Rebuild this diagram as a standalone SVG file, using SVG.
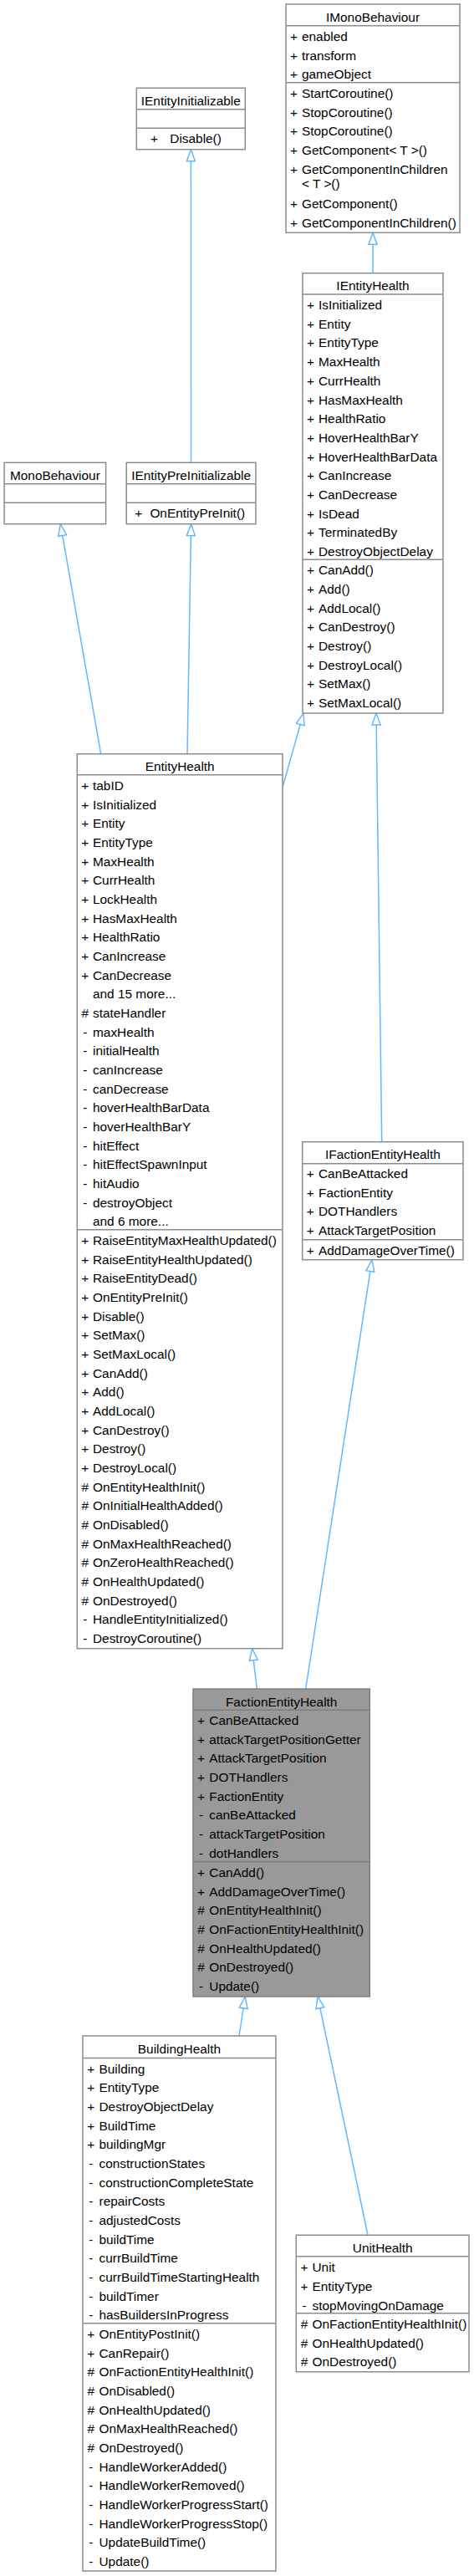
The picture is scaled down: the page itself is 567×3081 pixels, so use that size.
<svg xmlns="http://www.w3.org/2000/svg" width="567" height="3081" viewBox="0 0 567 3081">
<style>
text{font-family:"Liberation Sans",Arial,Helvetica,sans-serif;font-size:15.4px;fill:#000}
.t{text-anchor:middle}
.s{text-anchor:middle}
.box{fill:#fff;stroke:#8c8c8c;stroke-width:1.5}
.gbox{fill:#999;stroke:#7f7f7f;stroke-width:1.5}
.sep{stroke:#8c8c8c;stroke-width:1.5}
.gsep{stroke:#7f7f7f;stroke-width:1.5}
.edge{fill:none;stroke:#63B8FF;stroke-width:1.5}
</style>
<defs>
<marker id="inh" markerWidth="18" markerHeight="14" refX="16" refY="7" orient="auto" markerUnits="userSpaceOnUse" style="overflow:visible">
<path d="M2,2 L16,7 L2,12 Z" fill="#fff" stroke="#63B8FF" stroke-width="1.5"/>
</marker>
</defs>
<rect width="567" height="3081" fill="#fff"/>

<g id="connectors">
<path class="edge" d="M228.5,553.3 L228.4,178.7" marker-end="url(#inh)"/>
<path class="edge" d="M446,326.7 L446,278.3" marker-end="url(#inh)"/>
<path class="edge" d="M120.7,901.7 L72.3,626.7" marker-end="url(#inh)"/>
<path class="edge" d="M224,901.7 L228.6,626.7" marker-end="url(#inh)"/>
<path class="edge" d="M338,941.7 L363,853" marker-end="url(#inh)"/>
<path class="edge" d="M456.7,1365.7 L450,853" marker-end="url(#inh)"/>
<path class="edge" d="M307.3,2020 L301.7,1971.7" marker-end="url(#inh)"/>
<path class="edge" d="M365.7,2020 L445,1506.7" marker-end="url(#inh)"/>
<path class="edge" d="M286,2435 L293.3,2388" marker-end="url(#inh)"/>
<path class="edge" d="M440,2673.3 L380,2388" marker-end="url(#inh)"/>
</g>

<g id="IMonoBehaviour">
<rect class="box" x="342" y="5" width="208" height="273.3"/>
<line class="sep" x1="342" y1="30.7" x2="550" y2="30.7"/>
<line class="sep" x1="342" y1="98.7" x2="550" y2="98.7"/>
<text class="t" x="446" y="25.6">IMonoBehaviour</text>
<text y="48.8"><tspan class="s" x="351.5">+</tspan><tspan x="361">enabled</tspan></text>
<text y="71.5"><tspan class="s" x="351.5">+</tspan><tspan x="361">transform</tspan></text>
<text y="94.1"><tspan class="s" x="351.5">+</tspan><tspan x="361">gameObject</tspan></text>
<text y="116.8"><tspan class="s" x="351.5">+</tspan><tspan x="361">StartCoroutine()</tspan></text>
<text y="139.5"><tspan class="s" x="351.5">+</tspan><tspan x="361">StopCoroutine()</tspan></text>
<text y="162.1"><tspan class="s" x="351.5">+</tspan><tspan x="361">StopCoroutine()</tspan></text>
<text y="184.8"><tspan class="s" x="351.5">+</tspan><tspan x="361">GetComponent&lt; T &gt;()</tspan></text>
<text y="207.5"><tspan class="s" x="351.5">+</tspan><tspan x="361">GetComponentInChildren</tspan></text>
<text x="361" y="225">&lt; T &gt;()</text>
<text y="248.8"><tspan class="s" x="351.5">+</tspan><tspan x="361">GetComponent()</tspan></text>
<text y="271.5"><tspan class="s" x="351.5">+</tspan><tspan x="361">GetComponentInChildren()</tspan></text>
</g>

<g id="IEntityInitializable">
<rect class="box" x="163.3" y="105.3" width="130" height="73.4"/>
<line class="sep" x1="163.3" y1="130.7" x2="293.3" y2="130.7"/>
<line class="sep" x1="163.3" y1="153.3" x2="293.3" y2="153.3"/>
<text class="t" x="228.3" y="125.9">IEntityInitializable</text>
<text y="170.8"><tspan class="s" x="184.5">+</tspan><tspan x="203.3">Disable()</tspan></text>
</g>

<g id="MonoBehaviour">
<rect class="box" x="5.1" y="553.3" width="121.5" height="73.4"/>
<line class="sep" x1="5.1" y1="578.7" x2="126.6" y2="578.7"/>
<line class="sep" x1="5.1" y1="601.3" x2="126.6" y2="601.3"/>
<text class="t" x="65.9" y="573.9">MonoBehaviour</text>
</g>

<g id="IEntityPreInitializable">
<rect class="box" x="151.2" y="553.3" width="154.8" height="73.4"/>
<line class="sep" x1="151.2" y1="578.7" x2="306" y2="578.7"/>
<line class="sep" x1="151.2" y1="601.3" x2="306" y2="601.3"/>
<text class="t" x="228.6" y="573.9">IEntityPreInitializable</text>
<text y="618.8"><tspan class="s" x="165.7">+</tspan><tspan x="179.4">OnEntityPreInit()</tspan></text>
</g>

<g id="IEntityHealth">
<rect class="box" x="362" y="326.7" width="168" height="526.3"/>
<line class="sep" x1="362" y1="352" x2="530" y2="352"/>
<line class="sep" x1="362" y1="669.3" x2="530" y2="669.3"/>
<text class="t" x="446" y="347.3">IEntityHealth</text>
<text y="370.1"><tspan class="s" x="371.5">+</tspan><tspan x="381">IsInitialized</tspan></text>
<text y="392.8"><tspan class="s" x="371.5">+</tspan><tspan x="381">Entity</tspan></text>
<text y="415.4"><tspan class="s" x="371.5">+</tspan><tspan x="381">EntityType</tspan></text>
<text y="438.1"><tspan class="s" x="371.5">+</tspan><tspan x="381">MaxHealth</tspan></text>
<text y="460.8"><tspan class="s" x="371.5">+</tspan><tspan x="381">CurrHealth</tspan></text>
<text y="483.5"><tspan class="s" x="371.5">+</tspan><tspan x="381">HasMaxHealth</tspan></text>
<text y="506.1"><tspan class="s" x="371.5">+</tspan><tspan x="381">HealthRatio</tspan></text>
<text y="528.8"><tspan class="s" x="371.5">+</tspan><tspan x="381">HoverHealthBarY</tspan></text>
<text y="551.5"><tspan class="s" x="371.5">+</tspan><tspan x="381">HoverHealthBarData</tspan></text>
<text y="574.1"><tspan class="s" x="371.5">+</tspan><tspan x="381">CanIncrease</tspan></text>
<text y="596.8"><tspan class="s" x="371.5">+</tspan><tspan x="381">CanDecrease</tspan></text>
<text y="619.5"><tspan class="s" x="371.5">+</tspan><tspan x="381">IsDead</tspan></text>
<text y="642.1"><tspan class="s" x="371.5">+</tspan><tspan x="381">TerminatedBy</tspan></text>
<text y="664.8"><tspan class="s" x="371.5">+</tspan><tspan x="381">DestroyObjectDelay</tspan></text>
<text y="687.4"><tspan class="s" x="371.5">+</tspan><tspan x="381">CanAdd()</tspan></text>
<text y="710.1"><tspan class="s" x="371.5">+</tspan><tspan x="381">Add()</tspan></text>
<text y="732.7"><tspan class="s" x="371.5">+</tspan><tspan x="381">AddLocal()</tspan></text>
<text y="755.4"><tspan class="s" x="371.5">+</tspan><tspan x="381">CanDestroy()</tspan></text>
<text y="778.1"><tspan class="s" x="371.5">+</tspan><tspan x="381">Destroy()</tspan></text>
<text y="800.8"><tspan class="s" x="371.5">+</tspan><tspan x="381">DestroyLocal()</tspan></text>
<text y="823.4"><tspan class="s" x="371.5">+</tspan><tspan x="381">SetMax()</tspan></text>
<text y="846.1"><tspan class="s" x="371.5">+</tspan><tspan x="381">SetMaxLocal()</tspan></text>
</g>

<g id="EntityHealth">
<rect class="box" x="92.3" y="901.7" width="245.7" height="1070"/>
<line class="sep" x1="92.3" y1="926.7" x2="338" y2="926.7"/>
<line class="sep" x1="92.3" y1="1470.7" x2="338" y2="1470.7"/>
<text class="t" x="215.2" y="922.3">EntityHealth</text>
<text y="944.8"><tspan class="s" x="101.8">+</tspan><tspan x="111">tabID</tspan></text>
<text y="967.5"><tspan class="s" x="101.8">+</tspan><tspan x="111">IsInitialized</tspan></text>
<text y="990.1"><tspan class="s" x="101.8">+</tspan><tspan x="111">Entity</tspan></text>
<text y="1012.8"><tspan class="s" x="101.8">+</tspan><tspan x="111">EntityType</tspan></text>
<text y="1035.5"><tspan class="s" x="101.8">+</tspan><tspan x="111">MaxHealth</tspan></text>
<text y="1058.2"><tspan class="s" x="101.8">+</tspan><tspan x="111">CurrHealth</tspan></text>
<text y="1080.8"><tspan class="s" x="101.8">+</tspan><tspan x="111">LockHealth</tspan></text>
<text y="1103.5"><tspan class="s" x="101.8">+</tspan><tspan x="111">HasMaxHealth</tspan></text>
<text y="1126.2"><tspan class="s" x="101.8">+</tspan><tspan x="111">HealthRatio</tspan></text>
<text y="1148.8"><tspan class="s" x="101.8">+</tspan><tspan x="111">CanIncrease</tspan></text>
<text y="1171.5"><tspan class="s" x="101.8">+</tspan><tspan x="111">CanDecrease</tspan></text>
<text x="111" y="1194.2">and 15 more...</text>
<text y="1216.8"><tspan class="s" x="101.8">#</tspan><tspan x="111">stateHandler</tspan></text>
<text y="1239.5"><tspan class="s" x="101.8">-</tspan><tspan x="111">maxHealth</tspan></text>
<text y="1262.2"><tspan class="s" x="101.8">-</tspan><tspan x="111">initialHealth</tspan></text>
<text y="1284.9"><tspan class="s" x="101.8">-</tspan><tspan x="111">canIncrease</tspan></text>
<text y="1307.5"><tspan class="s" x="101.8">-</tspan><tspan x="111">canDecrease</tspan></text>
<text y="1330.2"><tspan class="s" x="101.8">-</tspan><tspan x="111">hoverHealthBarData</tspan></text>
<text y="1352.9"><tspan class="s" x="101.8">-</tspan><tspan x="111">hoverHealthBarY</tspan></text>
<text y="1375.5"><tspan class="s" x="101.8">-</tspan><tspan x="111">hitEffect</tspan></text>
<text y="1398.2"><tspan class="s" x="101.8">-</tspan><tspan x="111">hitEffectSpawnInput</tspan></text>
<text y="1420.9"><tspan class="s" x="101.8">-</tspan><tspan x="111">hitAudio</tspan></text>
<text y="1443.5"><tspan class="s" x="101.8">-</tspan><tspan x="111">destroyObject</tspan></text>
<text x="111" y="1466.2">and 6 more...</text>
<text y="1488.8"><tspan class="s" x="101.8">+</tspan><tspan x="111">RaiseEntityMaxHealthUpdated()</tspan></text>
<text y="1511.5"><tspan class="s" x="101.8">+</tspan><tspan x="111">RaiseEntityHealthUpdated()</tspan></text>
<text y="1534.1"><tspan class="s" x="101.8">+</tspan><tspan x="111">RaiseEntityDead()</tspan></text>
<text y="1556.8"><tspan class="s" x="101.8">+</tspan><tspan x="111">OnEntityPreInit()</tspan></text>
<text y="1579.5"><tspan class="s" x="101.8">+</tspan><tspan x="111">Disable()</tspan></text>
<text y="1602.2"><tspan class="s" x="101.8">+</tspan><tspan x="111">SetMax()</tspan></text>
<text y="1624.8"><tspan class="s" x="101.8">+</tspan><tspan x="111">SetMaxLocal()</tspan></text>
<text y="1647.5"><tspan class="s" x="101.8">+</tspan><tspan x="111">CanAdd()</tspan></text>
<text y="1670.2"><tspan class="s" x="101.8">+</tspan><tspan x="111">Add()</tspan></text>
<text y="1692.8"><tspan class="s" x="101.8">+</tspan><tspan x="111">AddLocal()</tspan></text>
<text y="1715.5"><tspan class="s" x="101.8">+</tspan><tspan x="111">CanDestroy()</tspan></text>
<text y="1738.2"><tspan class="s" x="101.8">+</tspan><tspan x="111">Destroy()</tspan></text>
<text y="1760.8"><tspan class="s" x="101.8">+</tspan><tspan x="111">DestroyLocal()</tspan></text>
<text y="1783.5"><tspan class="s" x="101.8">#</tspan><tspan x="111">OnEntityHealthInit()</tspan></text>
<text y="1806.2"><tspan class="s" x="101.8">#</tspan><tspan x="111">OnInitialHealthAdded()</tspan></text>
<text y="1828.9"><tspan class="s" x="101.8">#</tspan><tspan x="111">OnDisabled()</tspan></text>
<text y="1851.5"><tspan class="s" x="101.8">#</tspan><tspan x="111">OnMaxHealthReached()</tspan></text>
<text y="1874.2"><tspan class="s" x="101.8">#</tspan><tspan x="111">OnZeroHealthReached()</tspan></text>
<text y="1896.9"><tspan class="s" x="101.8">#</tspan><tspan x="111">OnHealthUpdated()</tspan></text>
<text y="1919.5"><tspan class="s" x="101.8">#</tspan><tspan x="111">OnDestroyed()</tspan></text>
<text y="1942.2"><tspan class="s" x="101.8">-</tspan><tspan x="111">HandleEntityInitialized()</tspan></text>
<text y="1964.9"><tspan class="s" x="101.8">-</tspan><tspan x="111">DestroyCoroutine()</tspan></text>
</g>

<g id="IFactionEntityHealth">
<rect class="box" x="361.7" y="1365.7" width="192.3" height="141"/>
<line class="sep" x1="361.7" y1="1391.7" x2="554" y2="1391.7"/>
<line class="sep" x1="361.7" y1="1482.7" x2="554" y2="1482.7"/>
<text class="t" x="457.9" y="1386.3">IFactionEntityHealth</text>
<text y="1409"><tspan class="s" x="371.2">+</tspan><tspan x="381">CanBeAttacked</tspan></text>
<text y="1431.7"><tspan class="s" x="371.2">+</tspan><tspan x="381">FactionEntity</tspan></text>
<text y="1454.3"><tspan class="s" x="371.2">+</tspan><tspan x="381">DOTHandlers</tspan></text>
<text y="1477"><tspan class="s" x="371.2">+</tspan><tspan x="381">AttackTargetPosition</tspan></text>
<text y="1500.5"><tspan class="s" x="371.2">+</tspan><tspan x="381">AddDamageOverTime()</tspan></text>
</g>

<g id="FactionEntityHealth">
<rect class="gbox" x="231" y="2020" width="211.3" height="368"/>
<line class="gsep" x1="231" y1="2045.3" x2="442.3" y2="2045.3"/>
<line class="gsep" x1="231" y1="2226.7" x2="442.3" y2="2226.7"/>
<text class="t" x="336.7" y="2040.6">FactionEntityHealth</text>
<text y="2062.8"><tspan class="s" x="240.5">+</tspan><tspan x="250.3">CanBeAttacked</tspan></text>
<text y="2085.5"><tspan class="s" x="240.5">+</tspan><tspan x="250.3">attackTargetPositionGetter</tspan></text>
<text y="2108.1"><tspan class="s" x="240.5">+</tspan><tspan x="250.3">AttackTargetPosition</tspan></text>
<text y="2130.8"><tspan class="s" x="240.5">+</tspan><tspan x="250.3">DOTHandlers</tspan></text>
<text y="2153.5"><tspan class="s" x="240.5">+</tspan><tspan x="250.3">FactionEntity</tspan></text>
<text y="2176.2"><tspan class="s" x="240.5">-</tspan><tspan x="250.3">canBeAttacked</tspan></text>
<text y="2198.8"><tspan class="s" x="240.5">-</tspan><tspan x="250.3">attackTargetPosition</tspan></text>
<text y="2221.5"><tspan class="s" x="240.5">-</tspan><tspan x="250.3">dotHandlers</tspan></text>
<text y="2244.8"><tspan class="s" x="240.5">+</tspan><tspan x="250.3">CanAdd()</tspan></text>
<text y="2267.5"><tspan class="s" x="240.5">+</tspan><tspan x="250.3">AddDamageOverTime()</tspan></text>
<text y="2290.1"><tspan class="s" x="240.5">#</tspan><tspan x="250.3">OnEntityHealthInit()</tspan></text>
<text y="2312.8"><tspan class="s" x="240.5">#</tspan><tspan x="250.3">OnFactionEntityHealthInit()</tspan></text>
<text y="2335.5"><tspan class="s" x="240.5">#</tspan><tspan x="250.3">OnHealthUpdated()</tspan></text>
<text y="2358.2"><tspan class="s" x="240.5">#</tspan><tspan x="250.3">OnDestroyed()</tspan></text>
<text y="2380.8"><tspan class="s" x="240.5">-</tspan><tspan x="250.3">Update()</tspan></text>
</g>

<g id="BuildingHealth">
<rect class="box" x="99" y="2435" width="231" height="640"/>
<line class="sep" x1="99" y1="2461.5" x2="330" y2="2461.5"/>
<line class="sep" x1="99" y1="2778.8" x2="330" y2="2778.8"/>
<text class="t" x="214.5" y="2455.6">BuildingHealth</text>
<text y="2479.6"><tspan class="s" x="108.7">+</tspan><tspan x="118.5">Building</tspan></text>
<text y="2502.3"><tspan class="s" x="108.7">+</tspan><tspan x="118.5">EntityType</tspan></text>
<text y="2524.9"><tspan class="s" x="108.7">+</tspan><tspan x="118.5">DestroyObjectDelay</tspan></text>
<text y="2547.6"><tspan class="s" x="108.7">+</tspan><tspan x="118.5">BuildTime</tspan></text>
<text y="2570.3"><tspan class="s" x="108.7">+</tspan><tspan x="118.5">buildingMgr</tspan></text>
<text y="2593"><tspan class="s" x="108.7">-</tspan><tspan x="118.5">constructionStates</tspan></text>
<text y="2615.6"><tspan class="s" x="108.7">-</tspan><tspan x="118.5">constructionCompleteState</tspan></text>
<text y="2638.3"><tspan class="s" x="108.7">-</tspan><tspan x="118.5">repairCosts</tspan></text>
<text y="2661"><tspan class="s" x="108.7">-</tspan><tspan x="118.5">adjustedCosts</tspan></text>
<text y="2683.6"><tspan class="s" x="108.7">-</tspan><tspan x="118.5">buildTime</tspan></text>
<text y="2706.3"><tspan class="s" x="108.7">-</tspan><tspan x="118.5">currBuildTime</tspan></text>
<text y="2729"><tspan class="s" x="108.7">-</tspan><tspan x="118.5">currBuildTimeStartingHealth</tspan></text>
<text y="2751.6"><tspan class="s" x="108.7">-</tspan><tspan x="118.5">buildTimer</tspan></text>
<text y="2774.3"><tspan class="s" x="108.7">-</tspan><tspan x="118.5">hasBuildersInProgress</tspan></text>
<text y="2796.9"><tspan class="s" x="108.7">+</tspan><tspan x="118.5">OnEntityPostInit()</tspan></text>
<text y="2819.6"><tspan class="s" x="108.7">+</tspan><tspan x="118.5">CanRepair()</tspan></text>
<text y="2842.2"><tspan class="s" x="108.7">#</tspan><tspan x="118.5">OnFactionEntityHealthInit()</tspan></text>
<text y="2864.9"><tspan class="s" x="108.7">#</tspan><tspan x="118.5">OnDisabled()</tspan></text>
<text y="2887.6"><tspan class="s" x="108.7">#</tspan><tspan x="118.5">OnHealthUpdated()</tspan></text>
<text y="2910.3"><tspan class="s" x="108.7">#</tspan><tspan x="118.5">OnMaxHealthReached()</tspan></text>
<text y="2932.9"><tspan class="s" x="108.7">#</tspan><tspan x="118.5">OnDestroyed()</tspan></text>
<text y="2955.6"><tspan class="s" x="108.7">-</tspan><tspan x="118.5">HandleWorkerAdded()</tspan></text>
<text y="2978.3"><tspan class="s" x="108.7">-</tspan><tspan x="118.5">HandleWorkerRemoved()</tspan></text>
<text y="3000.9"><tspan class="s" x="108.7">-</tspan><tspan x="118.5">HandleWorkerProgressStart()</tspan></text>
<text y="3023.6"><tspan class="s" x="108.7">-</tspan><tspan x="118.5">HandleWorkerProgressStop()</tspan></text>
<text y="3046.3"><tspan class="s" x="108.7">-</tspan><tspan x="118.5">UpdateBuildTime()</tspan></text>
<text y="3068.9"><tspan class="s" x="108.7">-</tspan><tspan x="118.5">Update()</tspan></text>
</g>

<g id="UnitHealth">
<rect class="box" x="354.3" y="2673.3" width="206.7" height="163.5"/>
<line class="sep" x1="354.3" y1="2698.8" x2="561" y2="2698.8"/>
<line class="sep" x1="354.3" y1="2766.7" x2="561" y2="2766.7"/>
<text class="t" x="457.7" y="2693.9">UnitHealth</text>
<text y="2717.2"><tspan class="s" x="364">+</tspan><tspan x="373.5">Unit</tspan></text>
<text y="2739.9"><tspan class="s" x="364">+</tspan><tspan x="373.5">EntityType</tspan></text>
<text y="2762.5"><tspan class="s" x="364">-</tspan><tspan x="373.5">stopMovingOnDamage</tspan></text>
<text y="2784.8"><tspan class="s" x="364">#</tspan><tspan x="373.5">OnFactionEntityHealthInit()</tspan></text>
<text y="2807.5"><tspan class="s" x="364">#</tspan><tspan x="373.5">OnHealthUpdated()</tspan></text>
<text y="2830.1"><tspan class="s" x="364">#</tspan><tspan x="373.5">OnDestroyed()</tspan></text>
</g>
</svg>
